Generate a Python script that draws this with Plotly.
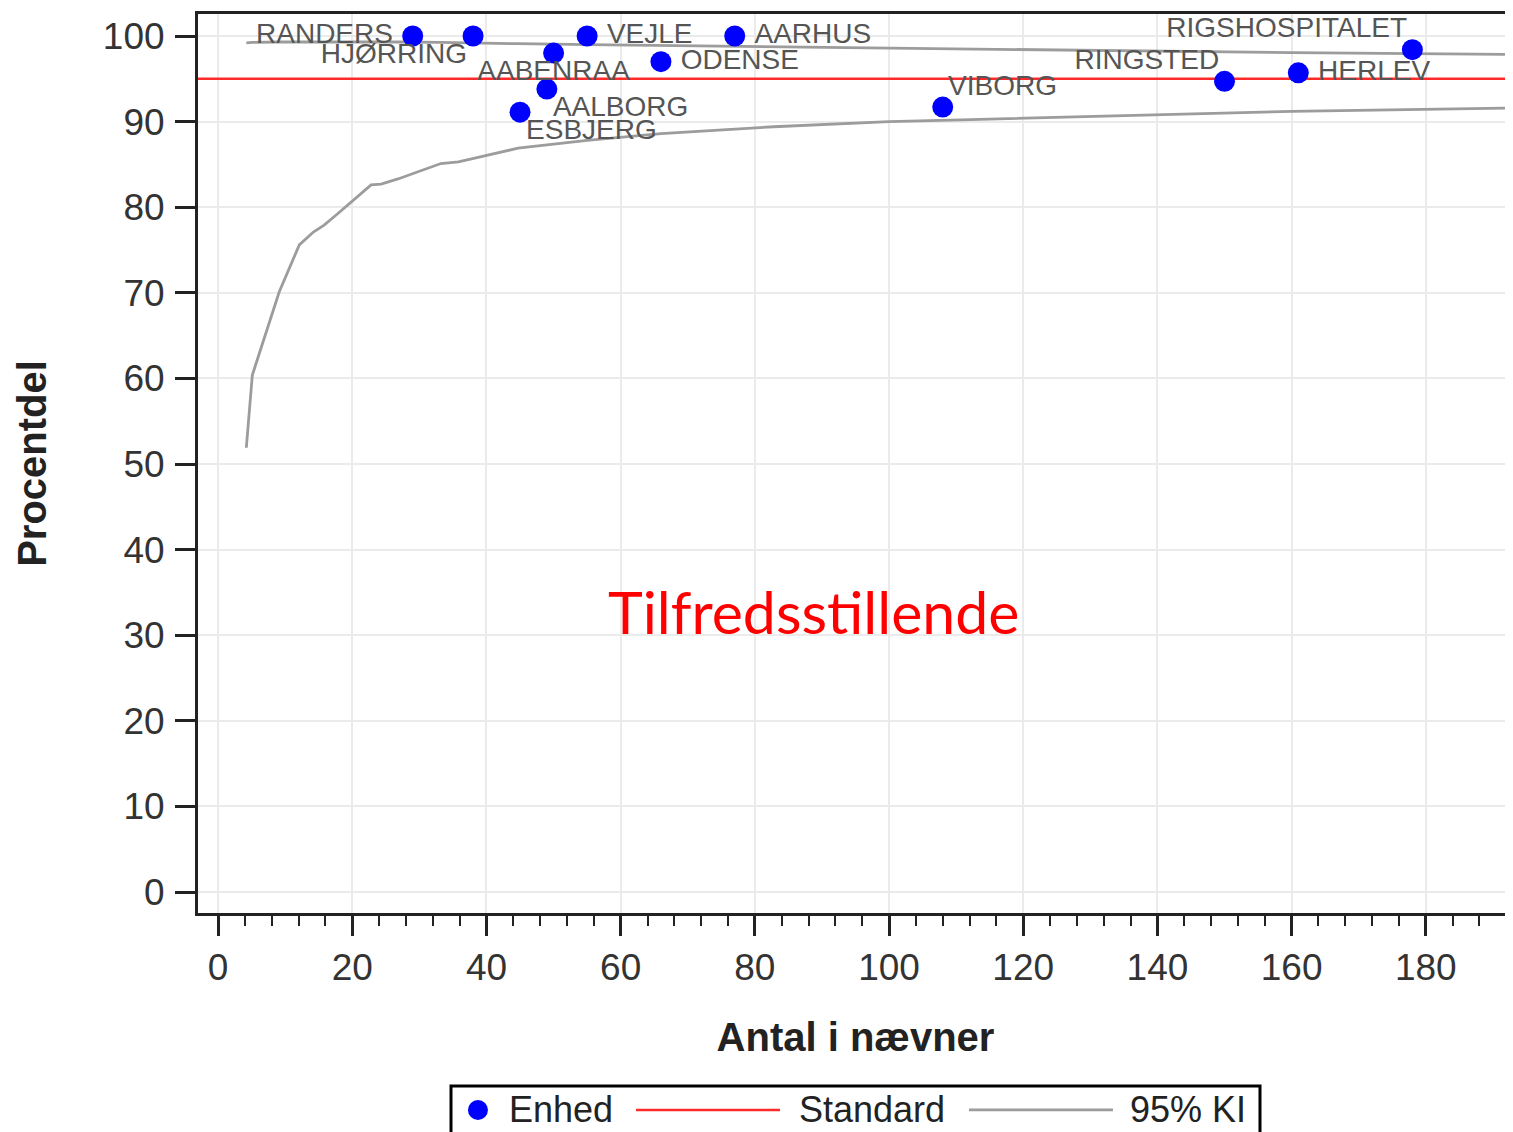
import plotly.graph_objects as go

# ---- data ----
units = ["RANDERS", "HJØRRING", "AABENRAA", "AALBORG", "ESBJERG", "VEJLE",
         "ODENSE", "AARHUS", "VIBORG", "RINGSTED", "HERLEV", "RIGSHOSPITALET"]
denominators = [29, 38, 50, 49, 45, 55, 66, 77, 108, 150, 161, 178]
percentages = [100, 100, 98.0, 93.8, 91.1, 100, 97.0, 100, 91.7, 94.7, 95.7, 98.4]
label_positions = ["middle left", "bottom left", "bottom center", "bottom right",
                   "bottom right", "middle right", "middle right", "middle right",
                   "top right", "top left", "middle right", "top left"]

ci_n = [4.2, 5.1, 9.1, 12.1, 14.2, 15.8, 17.9, 22.8, 24.3, 26.8, 33.2, 35.8,
        38.1, 44.7, 55, 66.0, 82.8, 100, 110.7, 138.4, 160, 193]
ci_lower = [51.9, 60.4, 70.1, 75.6, 77.1, 77.9, 79.3, 82.6, 82.7, 83.3, 85.1, 85.3,
            85.7, 86.9, 87.8, 88.6, 89.4, 90.0, 90.2, 90.8, 91.2, 91.6]
ci_upper = [99.2, 99.25, 99.3, 99.3, 99.35, 99.35, 99.35, 99.35, 99.3, 99.3, 99.25, 99.2,
            99.2, 99.1, 99.0, 98.9, 98.7, 98.55, 98.45, 98.25, 98.05, 97.85]

standard = 95
x_range = [-3, 193]
y_range = [-2.45, 102.57]
x_ticks = list(range(0, 181, 20))
y_ticks = list(range(0, 101, 10))
legend_labels = ["Enhed", "Standard", "95% KI"]

FONT = "Liberation Sans, Arial, sans-serif"
BLUE = "#0000ff"
RED = "#ff2a2a"
GRAY = "#9c9c9c"

# invisible "spacer" size per label so text sits at the reference distance
def label_gap(pos):
    if pos.startswith("middle"):
        return 30
    if pos.startswith("top"):
        return 7
    return 8

fig = go.Figure()

# 95% CI (lower + upper)
fig.add_trace(go.Scatter(x=ci_n, y=ci_lower, mode="lines", name="95% KI",
                         line=dict(color=GRAY, width=2.8), hoverinfo="x+y"))
fig.add_trace(go.Scatter(x=ci_n, y=ci_upper, mode="lines", name="95% KI",
                         line=dict(color=GRAY, width=2.8), hoverinfo="x+y"))

# Standard line
fig.add_trace(go.Scatter(x=x_range, y=[standard, standard], mode="lines", name="Standard",
                         line=dict(color=RED, width=2.5)))

# Units
fig.add_trace(go.Scatter(x=denominators, y=percentages, mode="markers", name="Enhed",
                         text=units, hovertemplate="%{text}: %{y}<extra></extra>",
                         marker=dict(color=BLUE, size=21, line=dict(width=0))))

# Unit labels
fig.add_trace(go.Scatter(x=denominators, y=percentages, mode="markers+text", name="labels",
                         text=units, textposition=label_positions, cliponaxis=False,
                         textfont=dict(family=FONT, size=28, color="#555555"),
                         marker=dict(size=[label_gap(p) for p in label_positions],
                                     opacity=0), hoverinfo="skip"))

fig.add_annotation(x=88.7, y=32.8, xref="x", yref="y", text="Tilfredsstillende",
                   showarrow=False, font=dict(family="Lato, sans-serif", size=59, color="#ff0000"))

# ---- legend (drawn below the plot, paper coordinates) ----
ly = -0.2191
fig.add_shape(type="rect", xref="paper", yref="paper", x0=0.1924, x1=0.8076,
              y0=-0.2600, y1=-0.1924, line=dict(color="black", width=3),
              fillcolor="white", layer="above")
fig.add_shape(type="circle", xref="paper", yref="paper", xsizemode="pixel", ysizemode="pixel",
              xanchor=0.2129, yanchor=ly, x0=-10, x1=10, y0=-10, y1=10,
              fillcolor=BLUE, line=dict(width=0), layer="above")
fig.add_shape(type="line", xref="paper", yref="paper", x0=0.3331, x1=0.4426, y0=ly, y1=ly,
              line=dict(color=RED, width=2.5), layer="above")
fig.add_shape(type="line", xref="paper", yref="paper", x0=0.5863, x1=0.6958, y0=ly, y1=ly,
              line=dict(color=GRAY, width=2.8), layer="above")
for lx, lab in zip([0.2350, 0.4555, 0.7072], legend_labels):
    fig.add_annotation(x=lx, y=ly, xref="paper", yref="paper", text=lab, showarrow=False,
                       xanchor="left", yanchor="middle",
                       font=dict(family=FONT, size=36, color="#222222"))

fig.update_layout(
    width=1513, height=1132,
    margin=dict(l=190, r=8, t=6, b=227, autoexpand=False),
    paper_bgcolor="white", plot_bgcolor="white",
    font=dict(family=FONT, color="#333333"),
    showlegend=False,
    xaxis=dict(range=x_range, tickmode="array", tickvals=x_ticks,
               showgrid=True, gridcolor="#ebebeb", gridwidth=1.5, zeroline=False,
               showline=True, linecolor="#222222", linewidth=3, mirror=True,
               ticks="outside", ticklen=20, tickwidth=2.5, tickcolor="#222222",
               tickfont=dict(family=FONT, size=37, color="#333333"),
               ticklabelstandoff=0,
               minor=dict(dtick=4, tick0=0, ticks="outside", ticklen=10, tickwidth=2,
                          tickcolor="#222222", showgrid=False),
               title=dict(text="<b>Antal i nævner</b>", standoff=36,
                          font=dict(family=FONT, size=40, color="#222222")),
               automargin=False),
    yaxis=dict(range=y_range, tickmode="array", tickvals=y_ticks,
               showgrid=True, gridcolor="#ebebeb", gridwidth=1.5, zeroline=False,
               showline=True, linecolor="#222222", linewidth=3, mirror=True,
               ticks="outside", ticklen=20, tickwidth=2.5, tickcolor="#222222",
               tickfont=dict(family=FONT, size=37, color="#333333"),
               ticklabelstandoff=3,
               title=dict(text="<b>Procentdel</b>", standoff=44,
                          font=dict(family=FONT, size=40, color="#222222")),
               automargin=False),
)

fig.write_html("out.html")
